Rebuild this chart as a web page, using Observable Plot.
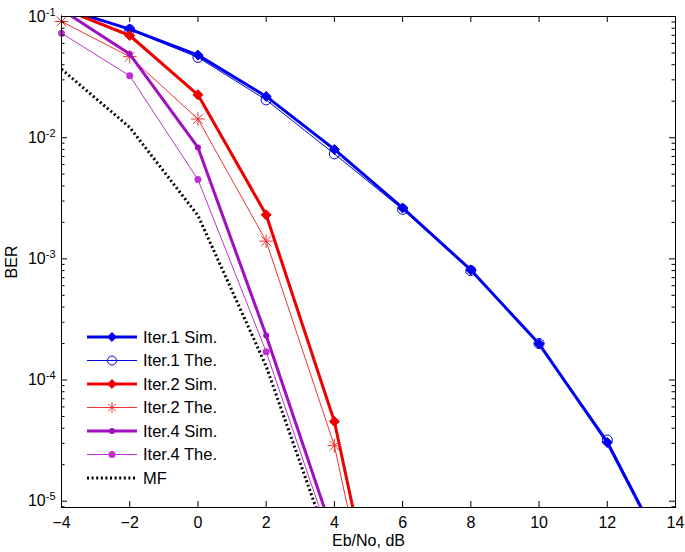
<!DOCTYPE html>
<html><head><meta charset="utf-8">
<script src="https://cdn.jsdelivr.net/npm/d3@7"></script>
<script src="https://cdn.jsdelivr.net/npm/@observablehq/plot@0.6"></script>
<style>body{margin:0;background:#fff;font-family:"Liberation Sans",Arial,sans-serif}</style>
</head><body><div id="chart"></div>
<script>
const ebno = [-4, -2, 0, 2, 4, 6, 8, 10, 12, 14];
const iter1Sim = [0.118, 0.0787, 0.048, 0.0219, 0.0080, 0.00263, 8.1e-4, 1.99e-4, 3.05e-5, 2.5e-6];
const iter1The = [0.118, 0.0777, 0.046, 0.0205, 0.00735, 0.00256, 8.0e-4, 2.0e-4, 3.2e-5, 2.6e-6];
const iter2Sim = [0.117, 0.0697, 0.0226, 0.00231, 4.55e-5, 1.06e-7];
const iter2The = [0.091, 0.0466, 0.01426, 0.0014, 2.87e-5, 6.9e-8];
const iter4Sim = [0.114, 0.049, 0.0083, 2.33e-4, 4.99e-6];
const iter4The = [0.0728, 0.0324, 0.00451, 1.71e-4, 3.82e-6];
const mf = [0.0368, 0.01216, 0.00228, 1.3e-4, 3.27e-6];

const seriesNames = ["Iter.1 Sim.", "Iter.1 The.", "Iter.2 Sim.", "Iter.2 The.", "Iter.4 Sim.", "Iter.4 The.", "MF"];
const seriesValues = [iter1Sim, iter1The, iter2Sim, iter2The, iter4Sim, iter4The, mf];
const seriesColors = ["#0000ee", "#0000ee", "#ee0000", "#ee3333", "#a010c0", "#c030d0", "#000000"];
const seriesWidths = [3, 1, 3, 1, 3, 1, 3];
const seriesDash = [null, null, null, null, null, null, "2,2.6"];
const seriesMarkers = ["diamond", "circle", "diamond", "asterisk", "dot", "dot", null];

const xTicks = [-4, -2, 0, 2, 4, 6, 8, 10, 12, 14];
const yMajor = [1e-5, 1e-4, 1e-3, 1e-2, 1e-1];
const yMajorLabels = ["10^-5", "10^-4", "10^-3", "10^-2", "10^-1"];
const yMinor = [];
for (const d of [1e-6, 1e-5, 1e-4, 1e-3, 1e-2]) for (let k = 2; k <= 9; k++) yMinor.push(k * d);
const xDomain = [-4, 14];
const yDomain = [8.87e-6, 0.1];

const W = 685, H = 552, mT = 16, mB = 45, mL = 61, mR = 10;
const frameW = W - mL - mR, frameH = H - mT - mB;
const majorLen = 6, minorLen = 3.5;

const rows = [];
seriesValues.forEach((vals, i) => vals.forEach((v, j) => rows.push({x: ebno[j], y: v, s: i})));
const inDom = r => r.y >= yDomain[0] && r.y <= yDomain[1] * 1.001;
const yMinorIn = yMinor.filter(v => v >= yDomain[0] && v <= yDomain[1]);

const marks = [];
seriesNames.forEach((name, i) => {
  const data = rows.filter(r => r.s === i);
  marks.push(Plot.line(data, {x: "x", y: "y", stroke: seriesColors[i], strokeWidth: seriesWidths[i],
    strokeDasharray: seriesDash[i], strokeLinecap: seriesDash[i] ? "butt" : "round", clip: true}));
  const m = seriesMarkers[i];
  const pts = data.filter(inDom);
  if (m === "diamond") marks.push(Plot.dot(pts, {x: "x", y: "y", symbol: "diamond2", r: 4.5, fill: seriesColors[i], stroke: seriesColors[i], strokeWidth: 1}));
  if (m === "circle") marks.push(Plot.dot(pts, {x: "x", y: "y", symbol: "circle", r: 5, fill: "none", stroke: seriesColors[i], strokeWidth: 1}));
  if (m === "asterisk") {
    marks.push(Plot.dot(pts, {x: "x", y: "y", symbol: "plus", r: 4.5, stroke: seriesColors[i], strokeWidth: 1}));
    marks.push(Plot.dot(pts, {x: "x", y: "y", symbol: "times", r: 4.5, stroke: seriesColors[i], strokeWidth: 1}));
  }
  if (m === "dot") marks.push(Plot.dot(pts, {x: "x", y: "y", symbol: "circle", r: i === 4 ? 3 : 3.5, fill: seriesColors[i], stroke: "none"}));
});

const chart = Plot.plot({
  width: W, height: H,
  marginTop: mT, marginBottom: mB, marginLeft: mL, marginRight: mR,
  style: {fontFamily: '"Liberation Sans", Arial, sans-serif', fontSize: "16px", background: "#fff"},
  x: {domain: xDomain},
  y: {type: "log", domain: yDomain},
  marks: [
    ...marks,
    // inward ticks (MATLAB box style)
    Plot.tickX(xTicks, {x: d => d, insetTop: frameH - majorLen, stroke: "#000", strokeWidth: 1}),
    Plot.tickX(xTicks, {x: d => d, insetBottom: frameH - majorLen, stroke: "#000", strokeWidth: 1}),
    Plot.tickY(yMajor, {y: d => d, insetRight: frameW - majorLen, stroke: "#000", strokeWidth: 1}),
    Plot.tickY(yMajor, {y: d => d, insetLeft: frameW - majorLen, stroke: "#000", strokeWidth: 1}),
    Plot.tickY(yMinorIn, {y: d => d, insetRight: frameW - minorLen, stroke: "#000", strokeWidth: 1}),
    Plot.tickY(yMinorIn, {y: d => d, insetLeft: frameW - minorLen, stroke: "#000", strokeWidth: 1}),
    Plot.frame({stroke: "#000", strokeWidth: 1}),
    Plot.axisX({ticks: xTicks, tickSize: 0, tickPadding: 9, fontSize: 16, label: "Eb/No, dB", labelAnchor: "center", labelArrow: "none", labelOffset: 38}),
    Plot.axisY({ticks: yMajor, tickSize: 0, tickPadding: 6, tickFormat: d => yMajorLabels[yMajor.indexOf(d)], fontSize: 16, label: "BER", labelAnchor: "center", labelArrow: "none", labelOffset: 56})
  ]
});
document.getElementById("chart").append(chart);

const svg = d3.select(chart);

// superscript exponents on y tick labels
svg.selectAll("text").each(function() {
  const t = this.textContent;
  const m = /^10\^(-?\d+)$/.exec(t);
  if (m) {
    const sel = d3.select(this);
    sel.text("");
    sel.append("tspan").text("10");
    sel.append("tspan").attr("dy", "-0.55em").attr("font-size", "11px").text(m[1]);
  }
});

// legend (inside plot, no box)
const lg = svg.append("g").attr("font-size", 16.5).attr("text-anchor", "start")
  .attr("font-family", '"Liberation Sans", Arial, sans-serif');
seriesNames.forEach((name, i) => {
  const y = 337 + i * 23.5;
  const g = lg.append("g").attr("transform", `translate(0,${y})`);
  g.append("line").attr("x1", 87).attr("x2", 137).attr("y1", 0).attr("y2", 0)
    .attr("stroke", seriesColors[i]).attr("stroke-width", seriesWidths[i])
    .attr("stroke-dasharray", seriesDash[i]);
  const m = seriesMarkers[i];
  if (m === "diamond") g.append("path").attr("transform", "translate(112,0)").attr("d", d3.symbol(d3.symbolDiamond2, 50)()).attr("fill", seriesColors[i]).attr("stroke", seriesColors[i]);
  if (m === "circle") g.append("circle").attr("cx", 112).attr("r", 4.5).attr("fill", "none").attr("stroke", seriesColors[i]);
  if (m === "asterisk") {
    g.append("path").attr("transform", "translate(112,0)").attr("d", d3.symbol(d3.symbolPlus, 40)()).attr("fill", "none").attr("stroke", seriesColors[i]);
    g.append("path").attr("transform", "translate(112,0)").attr("d", d3.symbol(d3.symbolTimes, 40)()).attr("fill", "none").attr("stroke", seriesColors[i]);
  }
  if (m === "dot") g.append("circle").attr("cx", 112).attr("r", i === 4 ? 3 : 3.5).attr("fill", seriesColors[i]);
  g.append("text").attr("x", 143).attr("y", 0).attr("dy", "0.35em").attr("fill", "#000").text(name);
});
</script>
</body></html>
